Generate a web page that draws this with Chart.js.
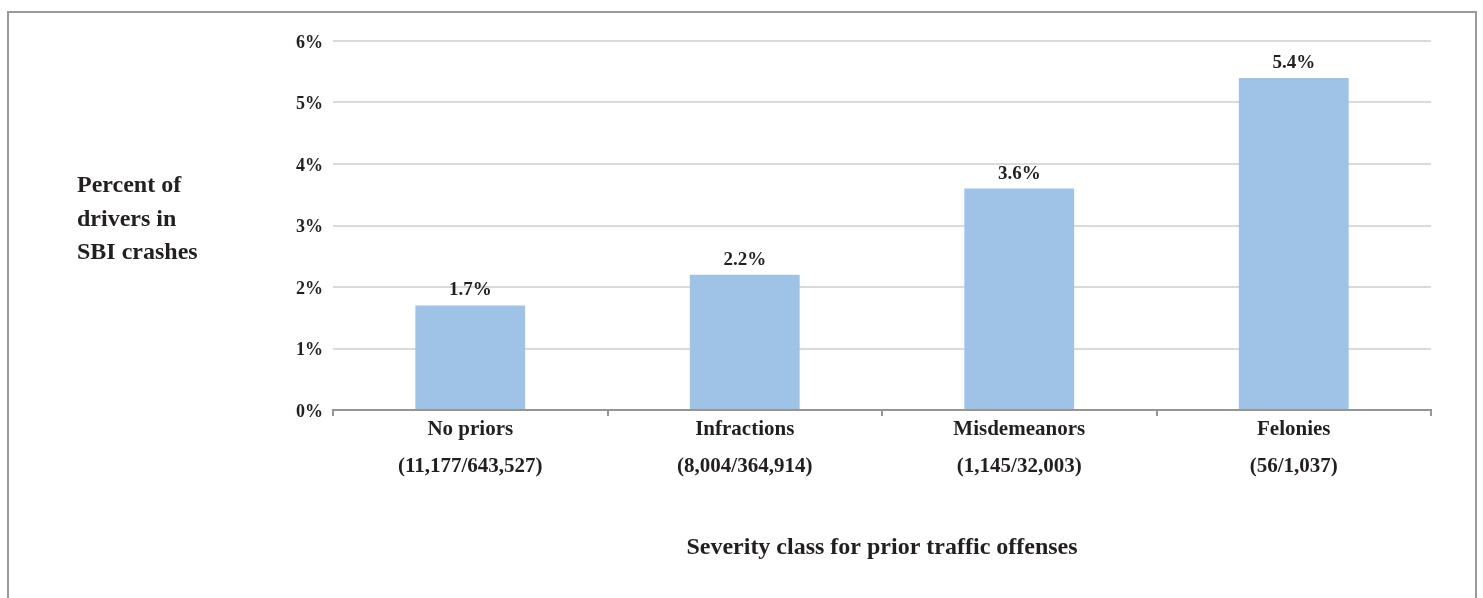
<!DOCTYPE html>
<html>
<head>
<meta charset="utf-8">
<script src="https://cdn.jsdelivr.net/npm/chart.js@4.4.0/dist/chart.umd.min.js"></script>
<style>
  body { margin: 0; background: #fff; overflow: hidden; }
  #wrap { position: relative; width: 1483px; height: 598px; }
  #frame { position: absolute; left: 7px; top: 11px; width: 1466px; height: 640px; border: 2px solid #9a9a9a; }
  #chart { position: absolute; left: 0; top: 0; }
</style>
</head>
<body>
<div id="wrap">
  <div id="frame"></div>
  <canvas id="chart" width="1483" height="598"></canvas>
</div>
<script>
const categories = ['No priors', 'Infractions', 'Misdemeanors', 'Felonies'];
const driverCounts = ['(11,177/643,527)', '(8,004/364,914)', '(1,145/32,003)', '(56/1,037)'];
const sbiPercent = [1.7, 2.2, 3.6, 5.4];
const yTitleLines = ['Percent of', 'drivers in', 'SBI crashes'];
const xTitle = 'Severity class for prior traffic offenses';

const serif = "'Liberation Serif', 'Times New Roman', serif";
const textColor = '#231f20';
const barColor = '#9fc2e7';
const gridColor = '#dadada';
const axisColor = '#959595';

// value above each bar
const valueLabels = {
    id: 'valueLabels',
    afterDatasetsDraw(chart) {
        const { ctx } = chart;
        const meta = chart.getDatasetMeta(0);
        ctx.save();
        ctx.font = `bold 19px ${serif}`;
        ctx.fillStyle = textColor;
        ctx.textAlign = 'center';
        ctx.textBaseline = 'alphabetic';
        meta.data.forEach((bar, i) => {
            ctx.fillText(sbiPercent[i].toFixed(1) + '%', bar.x, bar.y - 10);
        });
        ctx.restore();
    }
};

// horizontal y-axis title, left of the ticks
const sideTitle = {
    id: 'sideTitle',
    afterDraw(chart) {
        const { ctx } = chart;
        ctx.save();
        ctx.font = `bold 24px ${serif}`;
        ctx.fillStyle = textColor;
        ctx.textAlign = 'left';
        ctx.textBaseline = 'alphabetic';
        yTitleLines.forEach((line, i) => {
            ctx.fillText(line, 77, 192 + i * 33.5);
        });
        ctx.restore();
    }
};

new Chart(document.getElementById('chart').getContext('2d'), {
    type: 'bar',
    data: {
        labels: categories.map((c, i) => [c, driverCounts[i]]),
        datasets: [{
            data: sbiPercent,
            backgroundColor: barColor,
            borderWidth: 0,
            barPercentage: 0.4,
            categoryPercentage: 1
        }]
    },
    options: {
        responsive: false,
        animation: false,
        devicePixelRatio: 1,
        layout: { padding: { top: 41, right: 52, bottom: 0, left: 0 } },
        plugins: {
            legend: { display: false },
            tooltip: { enabled: false }
        },
        scales: {
            y: {
                min: 0,
                max: 6,
                ticks: {
                    stepSize: 1,
                    padding: 10,
                    labelOffset: 2,
                    color: textColor,
                    font: { family: serif, size: 18, weight: 'bold' },
                    callback: v => v + '%'
                },
                grid: { color: gridColor, lineWidth: 2, drawTicks: false },
                border: { display: false },
                afterFit: s => { s.width = 333; }
            },
            x: {
                ticks: {
                    padding: -5,
                    color: textColor,
                    font: { family: serif, size: 21, weight: 'bold', lineHeight: 1.76 }
                },
                grid: {
                    drawOnChartArea: false,
                    drawTicks: true,
                    tickLength: 6,
                    color: axisColor,
                    lineWidth: 2
                },
                border: { color: axisColor, width: 2 },
                title: {
                    display: true,
                    text: xTitle,
                    color: textColor,
                    font: { family: serif, size: 24, weight: 'bold', lineHeight: 1.2 },
                    padding: { top: 0, bottom: 36 }
                },
                afterFit: s => { s.height = 188; }
            }
        }
    },
    plugins: [valueLabels, sideTitle]
});
</script>
</body>
</html>
